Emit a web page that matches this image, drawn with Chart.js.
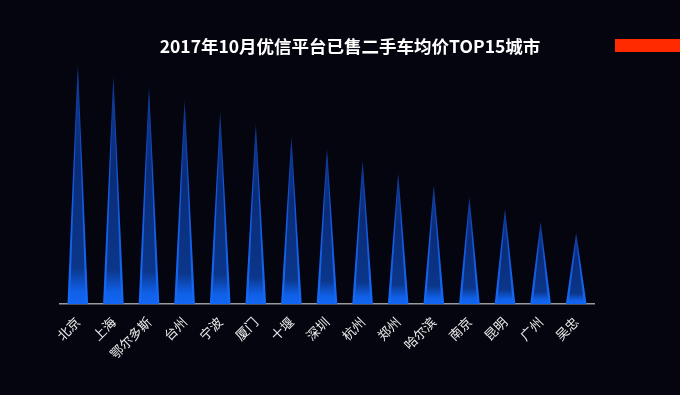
<!DOCTYPE html>
<html>
<head>
<meta charset="utf-8">
<script src="https://cdn.jsdelivr.net/npm/chart.js@4/dist/chart.umd.min.js"></script>
<style>
  html, body { margin: 0; padding: 0; background: #05050f; }
  #wrap { position: relative; width: 680px; height: 395px; overflow: hidden; }
  #title {
    position: absolute; left: 0; top: 34px; width: 700px; text-align: center;
    color: #ffffff; font: bold 17.5px "Noto Sans CJK SC", sans-serif; line-height: 24px;
  }
  #redbar { position: absolute; left: 615px; top: 39px; width: 65px; height: 13px; background: #ff2a00; }
</style>
</head>
<body>
<div id="wrap">
  <canvas id="chart" width="680" height="395"></canvas>
  <div id="title">2017年10月优信平台已售二手车均价TOP15城市</div>
  <div id="redbar"></div>
</div>
<script>
// 城市和数值
const cities = ['北京', '上海', '鄂尔多斯', '台州', '宁波', '厦门', '十堰', '深圳', '杭州', '郑州', '哈尔滨', '南京', '昆明', '广州', '吴忠'];
const values = [242, 230, 219, 206, 194, 182, 169, 157, 145, 132, 120, 108, 96, 83, 72];

// 柱子画成尖三角
const spikePlugin = {
    id: 'spikes',
    beforeDatasetDraw(chart, args) {
        const ctx = chart.ctx;
        args.meta.data.forEach(function(bar) {
            const p = bar.getProps(['x', 'y', 'base', 'width'], true);
            const half = p.width / 2;

            // 外层（亮边）
            let g = ctx.createLinearGradient(0, p.base, 0, p.y);
            g.addColorStop(0, '#1469f5');
            g.addColorStop(0.6, '#1555dc');
            g.addColorStop(0.95, 'rgba(22,85,225,0.6)');
            g.addColorStop(1, 'rgba(22,85,225,0.1)');
            ctx.save();
            ctx.fillStyle = g;
            ctx.beginPath();
            ctx.moveTo(p.x - half, p.base);
            ctx.lineTo(p.x, p.y);
            ctx.lineTo(p.x + half, p.base);
            ctx.closePath();
            ctx.fill();

            // 内层（暗色）
            const inset = 2.5;
            g = ctx.createLinearGradient(0, p.base, 0, p.y);
            g.addColorStop(0, '#1266f2');
            g.addColorStop(0.05, '#1060e8');
            g.addColorStop(0.15, '#0b368a');
            g.addColorStop(0.6, '#0a2c76');
            g.addColorStop(1, '#0e3d9c');
            ctx.fillStyle = g;
            ctx.beginPath();
            ctx.moveTo(p.x - half + inset, p.base);
            ctx.lineTo(p.x, p.y + 10);
            ctx.lineTo(p.x + half - inset, p.base);
            ctx.closePath();
            ctx.fill();
            ctx.restore();
        });
        return false;
    }
};

const ctx = document.getElementById('chart').getContext('2d');
const chart = new Chart(ctx, {
    type: 'bar',
    data: {
        labels: cities,
        datasets: [{
            data: values,
            backgroundColor: '#1469f5',
            categoryPercentage: 1,
            barPercentage: 0.58
        }]
    },
    options: {
        responsive: false,
        animation: false,
        layout: {
            padding: { left: 60, right: 86, top: 54, bottom: 0 }
        },
        plugins: {
            legend: { display: false },
            tooltip: { enabled: false }
        },
        scales: {
            x: {
                grid: { display: false, drawTicks: false },
                border: { display: true, color: '#9a9a9a', width: 1.5 },
                ticks: {
                    color: '#ececec',
                    font: { family: '"Noto Sans CJK SC", sans-serif', size: 13 },
                    minRotation: 45,
                    maxRotation: 45,
                    autoSkip: false,
                    padding: 10
                },
                afterFit: function(scale) { scale.height = 91; }
            },
            y: {
                display: false,
                min: 0,
                max: 250
            }
        }
    },
    plugins: [spikePlugin]
});
</script>
</body>
</html>
